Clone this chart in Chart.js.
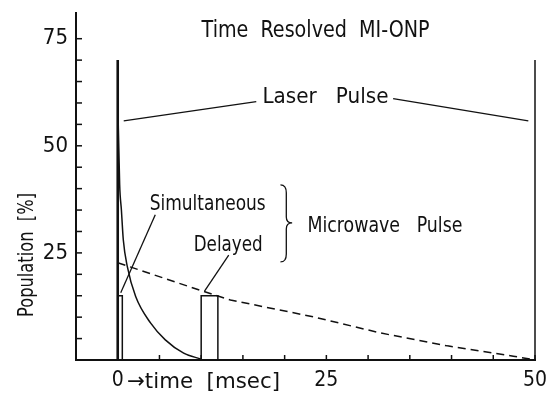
<!DOCTYPE html>
<html>
<head>
<meta charset="utf-8">
<script src="https://cdn.jsdelivr.net/npm/chart.js@4"></script>
<style>
  html, body { margin: 0; padding: 0; background: #fff; }
  #wrap { width: 548px; height: 395px; }
</style>
</head>
<body>
<div id="wrap"><canvas id="myChart"></canvas></div>
<script>
// data (time in msec, population in %)
const decayTime = [0, 0.23, 0.44, 0.67, 1.15, 2.15, 3.95, 5.7, 7.9, 10];
const decayPop  = [61, 41, 35, 28, 21.8, 14.8, 8.6, 4.7, 1.6, 0.2];
const dashTime  = [0, 10.3, 13.5, 23.4, 31.5, 39.5, 47.4, 50];
const dashPop   = [22.7, 16, 14, 10.1, 6.3, 3.3, 0.9, 0];
const laserTimes = [0, 50];
const laserPeak = 70;
const simultaneousPulse = [0, 0.55];
const delayedPulse = [10, 12];
const pulseHeight = 15;
const xTickLabels = [0, 25, 50];
const yTickLabels = [25, 50, 75];

const FONT = "'Liberation Sans Narrow', 'DejaVu Sans Condensed', sans-serif";
const INK = '#111';

function toPoints(xs, ys) { return xs.map((x, i) => ({x: x, y: ys[i]})); }
function box(t) {
  return [{x: t[0], y: 0}, {x: t[0], y: pulseHeight}, {x: t[1], y: pulseHeight}, {x: t[1], y: 0}];
}

// text drawn squeezed/stretched to a given width
function fitText(ctx, text, x, y, width, size) {
  ctx.save();
  ctx.font = size + 'px ' + FONT;
  ctx.textBaseline = 'alphabetic';
  ctx.textAlign = 'left';
  const w = ctx.measureText(text).width;
  ctx.translate(x, y);
  ctx.scale(width / w, 1);
  ctx.fillStyle = INK;
  ctx.fillText(text, 0, 0);
  ctx.restore();
}

// inside tick marks + annotations
const extras = {
  id: 'extras',
  afterDraw(chart) {
    const ctx = chart.ctx;
    const xs = chart.scales.x, ys = chart.scales.y;
    const px = v => xs.getPixelForValue(v);
    const py = v => ys.getPixelForValue(v);
    const area = chart.chartArea;

    ctx.save();
    ctx.strokeStyle = INK;
    ctx.lineWidth = 1.5;
    ys.ticks.forEach(t => {
      if (t.value > 0 && t.value <= 75 && t.value % 5 === 0) {
        ctx.beginPath(); ctx.moveTo(area.left, py(t.value)); ctx.lineTo(area.left + 6, py(t.value)); ctx.stroke();
      }
    });
    xs.ticks.forEach(t => {
      if (t.value >= 0 && t.value % 5 === 0) {
        ctx.beginPath(); ctx.moveTo(px(t.value), area.bottom); ctx.lineTo(px(t.value), area.bottom - 5); ctx.stroke();
      }
    });

    // leader lines
    ctx.lineWidth = 1.3;
    const seg = (a, b, c, d) => { ctx.beginPath(); ctx.moveTo(px(a), py(b)); ctx.lineTo(px(c), py(d)); ctx.stroke(); };
    seg(0.72, 55.8, 16.6, 60.3);
    seg(33.0, 61.0, 49.2, 55.8);
    seg(4.5, 33.9, 0.36, 15.7);
    seg(13.3, 24.5, 10.4, 16.1);

    // brace
    const bx0 = px(19.5), bx1 = px(20.9), bxm = (bx0 + bx1) / 2;
    const by0 = py(40.9), bym = py(32.0), by1 = py(22.9);
    ctx.beginPath();
    ctx.moveTo(bx0, by0);
    ctx.quadraticCurveTo(bxm, by0, bxm, by0 + 8);
    ctx.lineTo(bxm, bym - 6);
    ctx.quadraticCurveTo(bxm, bym, bx1, bym);
    ctx.quadraticCurveTo(bxm, bym, bxm, bym + 6);
    ctx.lineTo(bxm, by1 - 8);
    ctx.quadraticCurveTo(bxm, by1, bx0, by1);
    ctx.stroke();
    ctx.restore();

    fitText(ctx, 'Time  Resolved  MI-ONP', px(10.05), py(75.5), 228, 23);
    fitText(ctx, 'Laser   Pulse', px(17.34), py(60.05), 126, 22);
    fitText(ctx, 'Simultaneous', px(3.83), py(35.05), 116, 22);
    fitText(ctx, 'Delayed', px(9.1), py(25.5), 69, 22);
    fitText(ctx, 'Microwave   Pulse', px(22.73), py(29.9), 155, 22);
    fitText(ctx, '\u2192time  [msec]', 127, 388, 153, 22);

    // y axis title
    ctx.save();
    ctx.translate(33, 317);
    ctx.rotate(-Math.PI / 2);
    fitText(ctx, 'Population  [%]', 0, 0, 124, 22);
    ctx.restore();
  }
};

const lineStyle = {showLine: true, pointRadius: 0, borderColor: INK, borderWidth: 1.5, fill: false, clip: false};

new Chart(document.getElementById('myChart').getContext('2d'), {
  type: 'scatter',
  data: {
    datasets: [
      Object.assign({label: 'decay', data: toPoints(decayTime, decayPop), cubicInterpolationMode: 'monotone'}, lineStyle),
      Object.assign({label: 'delayed decay', data: toPoints(dashTime, dashPop), borderDash: [8, 5], borderWidth: 1.3}, lineStyle),
      Object.assign({}, lineStyle, {label: 'laser 1', data: [{x: laserTimes[0], y: 0}, {x: laserTimes[0], y: laserPeak}], borderWidth: 2.6}),
      Object.assign({}, lineStyle, {label: 'laser 2', data: [{x: laserTimes[1], y: 0}, {x: laserTimes[1], y: laserPeak}], borderWidth: 1.5}),
      Object.assign({label: 'simultaneous', data: box(simultaneousPulse)}, lineStyle),
      Object.assign({label: 'delayed', data: box(delayedPulse)}, lineStyle)
    ]
  },
  options: {
    responsive: true,
    maintainAspectRatio: false,
    animation: false,
    layout: {padding: {left: 0, right: 13, top: 13, bottom: 0}},
    plugins: {legend: {display: false}, tooltip: {enabled: false}},
    scales: {
      x: {
        type: 'linear', min: -5, max: 50,
        afterFit: s => { s.height = 35; s.paddingLeft = 0; s.paddingRight = 0; },
        grid: {display: false},
        border: {color: INK, width: 2},
        ticks: {
          stepSize: 5, autoSkip: false, maxRotation: 0, padding: 0,
          color: INK, font: {family: FONT, size: 21},
          callback: v => xTickLabels.includes(v) ? String(v) : ''
        }
      },
      y: {
        min: 0, max: 81,
        afterFit: s => { s.width = 76; s.paddingTop = 0; s.paddingBottom = 0; },
        grid: {display: false},
        border: {color: INK, width: 2},
        ticks: {
          stepSize: 5, autoSkip: false, padding: 0,
          color: INK, font: {family: FONT, size: 22},
          callback: v => yTickLabels.includes(v) ? String(v) : ''
        }
      }
    }
  },
  plugins: [extras]
});
</script>
</body>
</html>
